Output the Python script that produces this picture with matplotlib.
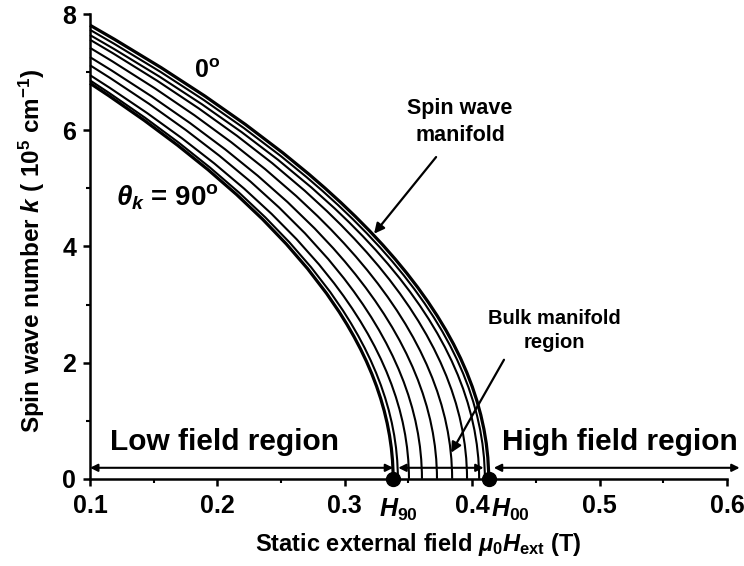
import numpy as np
import matplotlib
matplotlib.use("Agg")
import matplotlib.pyplot as plt
from matplotlib.path import Path
from matplotlib.patches import PathPatch
from matplotlib.ticker import MultipleLocator

plt.rcParams['font.family'] = ['Liberation Sans', 'DejaVu Sans']
plt.rcParams['font.weight'] = 'bold'
plt.rcParams['mathtext.fontset'] = 'custom'
plt.rcParams['mathtext.rm'] = 'Liberation Sans:bold'
plt.rcParams['mathtext.it'] = 'Liberation Sans:italic:bold'
plt.rcParams['mathtext.bf'] = 'Liberation Sans:bold'

# one curve per propagation angle (deg)
angles = [0, 10, 20, 30, 40, 50, 60, 70, 80, 90]
# k (1e5 /cm) where each curve meets the left edge H = 0.1 T
k_left = [7.81, 7.73, 7.64, 7.56, 7.42, 7.26, 7.12, 6.95, 6.86, 6.81]
# field (T) where each curve reaches k = 0
H_zero = [0.413, 0.410, 0.4055, 0.396, 0.3843, 0.3724, 0.3606, 0.3504, 0.3417, 0.338]
H_left = 0.1
arrow_k = 0.19

fig = plt.figure(figsize=(7.44, 5.66), dpi=100)
ax = fig.add_axes([0.121, 0.154, 0.856, 0.821])

# each curve leaves k=0 vertically and bends over to the left edge
for ang, k1, h0 in zip(angles, k_left, H_zero):
    verts = [(h0, 0), (h0, k1 / 2), (H_left, k1)]
    codes = [Path.MOVETO, Path.CURVE3, Path.CURVE3]
    lw = 2.3 if ang in (0, 90) else 1.5
    ax.add_patch(PathPatch(Path(verts, codes), fill=False, ec='black', lw=lw,
                           clip_on=False))

H90 = H_zero[-1]
H00 = H_zero[0]
ax.plot([H90, H00], [0, 0], 'o', color='black', ms=10, clip_on=False, zorder=5)

# region arrows
ap = dict(arrowstyle='<|-|>', color='black', lw=1.5, mutation_scale=11,
          shrinkA=0, shrinkB=0)
ax.annotate('', xy=(0.1, arrow_k), xytext=(H90, arrow_k), arrowprops=ap,
            annotation_clip=False)
ax.annotate('', xy=(H90 + 0.004, arrow_k), xytext=(H00 - 0.004, arrow_k), arrowprops=ap)
ax.annotate('', xy=(H00 + 0.004, arrow_k), xytext=(0.61, arrow_k), arrowprops=ap,
            annotation_clip=False)

ax.text(0.2055, 0.64, 'Low field region', fontsize=21.5, ha='center', va='center')
ax.text(0.5157, 0.64, 'High field region', fontsize=21.5, ha='center', va='center')
ax.text(0.192, 7.02, r'0$^{\rm o}$', fontsize=18, ha='center', va='center')
ax.text(0.161, 4.85, r'$\theta_k$ = 90$^{\rm o}$', fontsize=20, ha='center', va='center')

ax.text(0.3906, 6.14, 'Spin wave\nmanifold', fontsize=15.5, ha='center',
        va='center', linespacing=1.35)
ax.annotate('', xy=(0.323, 4.22), xytext=(0.3717, 5.54),
            arrowprops=dict(arrowstyle='-|>', color='black', lw=1.6,
                            mutation_scale=15, shrinkA=0, shrinkB=0))
ax.text(0.4646, 2.56, 'Bulk manifold\nregion', fontsize=14.5, ha='center',
        va='center', linespacing=1.35)
ax.annotate('', xy=(0.3835, 0.45), xytext=(0.425, 2.05),
            arrowprops=dict(arrowstyle='-|>', color='black', lw=1.6,
                            mutation_scale=15, shrinkA=0, shrinkB=0))

# H90 / H00 labels in the tick label row
ax.text(0.3265, -0.66, r'$H_{\rm 90}$', fontsize=18, ha='left', va='baseline')
ax.text(H00 + 0.0015, -0.66, r'$H_{\rm 00}$', fontsize=18, ha='left', va='baseline')

ax.set_xlim(0.1, 0.6)
ax.set_ylim(0, 8)
ax.xaxis.set_major_locator(MultipleLocator(0.1))
ax.xaxis.set_minor_locator(MultipleLocator(0.05))
ax.yaxis.set_major_locator(MultipleLocator(2))
ax.yaxis.set_minor_locator(MultipleLocator(1))
ax.set_xticks([0.1, 0.2, 0.3, 0.4, 0.5, 0.6])
ax.set_xticklabels(['0.1', '0.2', '0.3', '0.4', '0.5', '0.6'])

for s in ['top', 'right']:
    ax.spines[s].set_visible(False)
for s in ['left', 'bottom']:
    ax.spines[s].set_linewidth(1.8)
ax.tick_params(which='major', direction='out', length=5, width=1.8, labelsize=18)
ax.tick_params(axis='x', which='major', pad=6)
ax.tick_params(axis='y', which='major', pad=5)
ax.tick_params(which='minor', direction='out', length=3, width=1.5)

ax.set_xlabel(r'Static external field $\mu_0H_{\rm ext}$ (T)', fontsize=17,
              fontweight='bold')
ax.set_ylabel(r'Spin wave number $k$ ( 10$^5$ cm$^{-1}$)', fontsize=17.5,
              fontweight='bold')
ax.xaxis.set_label_coords(0.515, -0.112)
ax.yaxis.set_label_coords(-0.068, 0.49)

fig.savefig('out.png', dpi=100)
